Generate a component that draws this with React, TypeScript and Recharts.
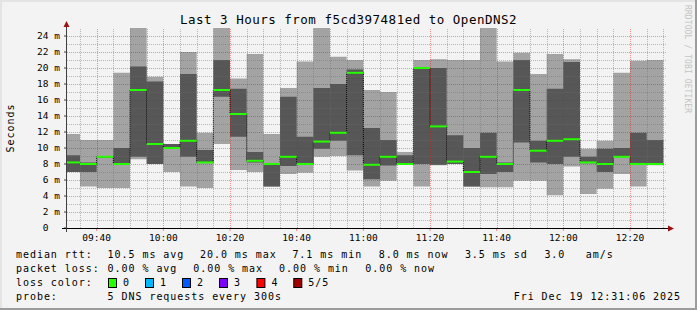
import { ComposedChart, Area, Line, XAxis, YAxis, ReferenceLine } from "recharts";

// 5-minute smoke bars, values in ms
const START = [
  "09:30", "09:35", "09:40", "09:45", "09:50", "09:55",
  "10:00", "10:05", "10:10", "10:15", "10:20", "10:25",
  "10:30", "10:35", "10:40", "10:45", "10:50", "10:55",
  "11:00", "11:05", "11:10", "11:15", "11:20", "11:25",
  "11:30", "11:35", "11:40", "11:45", "11:50", "11:55",
  "12:00", "12:05", "12:10", "12:15", "12:20", "12:25",
];
const P_MIN = [7.0, 5.2, 5.0, 5.0, 8.6, 8.0, 7.0, 5.2, 5.0, 10.5, 7.25, 7.0, 5.2, 6.75, 6.9, 8.9, 9.0, 7.2, 5.2, 5.9, 7.9, 5.2, 7.85, 8.0, 5.2, 5.1, 5.1, 5.9, 5.9, 4.1, 7.7, 4.25, 4.9, 6.75, 5.2, 7.85];
const P_LOW = [7.0, 7.0, 8.8, 8.0, 8.9, 8.0, 10.0, 8.9, 8.2, 16.4, 11.4, 8.2, 5.2, 7.75, 8.0, 9.9, 10.9, 9.1, 6.1, 7.8, 7.9, 8.0, 7.9, 8.0, 5.2, 6.75, 7.0, 10.7, 8.2, 8.0, 8.9, 8.1, 7.0, 8.9, 8.0, 7.9];
const P_MED = [8.2, 8.0, 8.9, 8.0, 17.25, 10.5, 10.0, 10.9, 8.2, 17.25, 14.25, 8.4, 8.0, 8.9, 8.0, 10.8, 11.9, 19.4, 7.9, 8.9, 8.0, 20.0, 12.7, 8.3, 7.0, 8.9, 8.0, 17.25, 9.66, 10.9, 11.1, 8.2, 8.0, 8.9, 8.0, 8.0];
const P_HIGH = [9.1, 8.2, 9.0, 10.0, 20.2, 18.3, 10.5, 19.25, 9.75, 21.0, 17.4, 9.5, 8.0, 16.4, 11.4, 17.5, 18.0, 19.8, 12.5, 11.0, 9.1, 20.0, 20.0, 11.6, 10.0, 11.9, 8.2, 21.0, 10.9, 17.4, 20.75, 8.9, 9.9, 10.0, 11.9, 11.0];
const P_MAX = [11.75, 11.0, 11.0, 19.4, 26, 18.9, 10.5, 22.0, 11.9, 26, 18.7, 21.75, 11.75, 17.5, 20.8, 26, 21.4, 21.0, 17.25, 17.0, 9.5, 21.0, 21.1, 21.0, 21.0, 26, 20.8, 21.9, 19.25, 21.75, 21.1, 9.9, 10.9, 19.4, 20.9, 21.0];
const END = "12:30";

const Y_TICKS = [0, 2, 4, 6, 8, 10, 12, 14, 16, 18, 20, 22, 24];
const Y_MINOR = [1, 3, 5, 7, 9, 11, 13, 15, 17, 19, 21, 23];
const X_MAJOR = ["09:40", "10:00", "10:20", "10:40", "11:00", "11:20", "11:40", "12:00", "12:20"];

const LOSS_LABELS = ["0", "1", "2", "3", "4", "5/5"];
const LOSS_COLORS = ["#26ff00", "#00b8ff", "#0059ff", "#7e00ff", "#ff0000", "#a10000"];

const toMin = (s: string) => {
  const [h, m] = s.split(":").map(Number);
  return h * 60 + m;
};
const T0 = toMin("09:31") + 6 / 60;
const T1 = T0 + 180;

const rows = START.map((s, i) => ({
  t: toMin(s),
  light: [P_MIN[i], P_MAX[i]],
  dark: [P_LOW[i], P_HIGH[i]],
  med: P_MED[i],
}));
const last = rows[rows.length - 1];
const data = [...rows, { ...last, t: toMin(END) }];

const MONO = "'DejaVu Sans Mono', monospace";
const majorX = X_MAJOR.map(toMin);
const minorX = [...START.slice(1), END].map(toMin).filter((t) => !majorX.includes(t));

const MINOR_C = "rgba(110,110,110,0.45)";
const MAJOR_C = "rgba(255,0,0,0.42)";

// crisp 1px dotted grid line: shift only across the line, keep dash phase on pixels
const gridShape = (p: any) => {
  const horiz = Math.abs(p.y1 - p.y2) < 0.01;
  const dx = horiz ? 0 : 0.5;
  const dy = horiz ? 0.5 : 0;
  return (
    <line x1={Math.round(p.x1) + dx} y1={Math.round(p.y1) + dy} x2={Math.round(p.x2) + dx} y2={Math.round(p.y2) + dy}
      stroke={p.stroke} strokeWidth={1} strokeDasharray="1 1" />
  );
};

const YTick = ({ x, y, payload }: any) => (
  <text x={x} y={y} dy={3.4} textAnchor="end" fontFamily={MONO} fontSize={9.5} fill="#000"
    style={{ whiteSpace: "pre" }}>
    {payload.value === 0 ? "0  " : `${payload.value} m`}
  </text>
);

const XTick = ({ x, y, payload }: any) => {
  const m = Math.round(payload.value);
  const label = `${String(Math.floor(m / 60)).padStart(2, "0")}:${String(m % 60).padStart(2, "0")}`;
  return (
    <text x={x} y={y} dy={6.6} textAnchor="middle" fontFamily={MONO} fontSize={9.5} fill="#000">
      {label}
    </text>
  );
};

const row1: [number, string][] = [
  [16, "median rtt:"], [107.6, "10.5 ms avg"], [200, "20.0 ms max"], [292.4, "7.1 ms min"],
  [378.7, "8.0 ms now"], [464.9, "3.5 ms sd"], [544.4, "3.0"], [585.8, "am/s"],
];
const row2: [number, string][] = [
  [16, "packet loss:"], [107.6, "0.00 % avg"], [193.3, "0.00 % max"], [279.1, "0.00 % min"], [365.3, "0.00 % now"],
];
const boxX = [108, 145, 182, 219, 256.4, 293.3];

export default function App() {
  const txt = { fontFamily: MONO, fontSize: 10, letterSpacing: 0.95, fill: "#000" };
  return (
    <div style={{ position: "absolute", left: 0, top: 0, width: 697, height: 310, background: "#f3f3f3", overflow: "hidden" }}>
      <ComposedChart width={697} height={310} data={data} margin={{ top: 28, right: 30, bottom: 62, left: 7 }}
        style={{ position: "absolute", left: 0, top: 0 }}>
        <XAxis type="number" dataKey="t" domain={[T0, T1]} allowDataOverflow height={20} interval={0}
          ticks={majorX} tick={<XTick />} axisLine={false}
          tickLine={{ stroke: "#ff8080" }} tickSize={3} tickMargin={3} />
        <YAxis type="number" domain={[0, 25]} allowDataOverflow width={60} ticks={Y_TICKS} interval={0}
          tick={<YTick />} axisLine={false} tickLine={{ stroke: "#404040" }} tickSize={3} tickMargin={4} />
        <Area dataKey="light" type="stepAfter" fill="#a3a3a3" fillOpacity={1} stroke="none" isAnimationActive={false} />
        <Area dataKey="dark" type="stepAfter" fill="#575757" fillOpacity={1} stroke="none" isAnimationActive={false} />
        <Line dataKey="med" type="stepAfter" stroke="#000" strokeWidth={1} strokeDasharray="1 1" dot={false}
          activeDot={false} isAnimationActive={false} />
        {Y_MINOR.map((v) => (
          <ReferenceLine key={"ym" + v} y={v} stroke={MINOR_C} shape={gridShape} />
        ))}
        {Y_TICKS.filter((v) => v > 0).map((v) => (
          <ReferenceLine key={"yM" + v} y={v} stroke={MAJOR_C} shape={gridShape} />
        ))}
        {minorX.map((t) => (
          <ReferenceLine key={"xm" + t} x={t} stroke={MINOR_C} shape={gridShape} />
        ))}
        {majorX.map((t) => (
          <ReferenceLine key={"xM" + t} x={t} stroke={MAJOR_C} shape={gridShape} />
        ))}
        {rows.map((r) => (
          <ReferenceLine key={"md" + r.t} segment={[{ x: Math.max(r.t, T0), y: r.med }, { x: r.t + 5, y: r.med }]}
            stroke="#26ff00" strokeWidth={2} />
        ))}
      </ComposedChart>
      <svg width={697} height={310} style={{ position: "absolute", left: 0, top: 0, pointerEvents: "none" }}>
        <rect x={0} y={0} width={697} height={2} fill="#e4e4e4" />
        <rect x={0} y={0} width={2} height={310} fill="#e4e4e4" />
        <rect x={695} y={0} width={2} height={310} fill="#9c9c9c" />
        <rect x={0} y={308} width={697} height={2} fill="#9c9c9c" />
        <text x={348.5} y={24} textAnchor="middle" fontFamily={MONO} fontSize={12.5} letterSpacing={0.5} fill="#000">
          Last 3 Hours from f5cd397481ed to OpenDNS2
        </text>
        <text transform="translate(14,128) rotate(-90)" textAnchor="middle" fontFamily={MONO} fontSize={10}
          letterSpacing={1} fill="#000">Seconds</text>
        <text transform="translate(685,5) rotate(90)" fontFamily={MONO} fontSize={8} letterSpacing={0.1} fill="#c4c4c4">
          RRDTOOL / TOBI OETIKER
        </text>
        <line x1={62} y1={228.5} x2={669} y2={228.5} stroke="#000" strokeWidth={1} />
        <polygon points="668,225.5 674,228.5 668,231.5" fill="#a01010" />
        <line x1={66.5} y1={232} x2={66.5} y2={25} stroke="#404040" strokeWidth={1} />
        <polygon points="63.5,27 66.5,21 69.5,27" fill="#a01010" />
        {row1.map(([x, s]) => (
          <text key={s} x={x} y={258} {...txt} style={{ whiteSpace: "pre" }}>{s}</text>
        ))}
        {row2.map(([x, s]) => (
          <text key={s} x={x} y={272} {...txt} style={{ whiteSpace: "pre" }}>{s}</text>
        ))}
        <text x={16} y={286} {...txt}>loss color:</text>
        {LOSS_LABELS.map((l, i) => (
          <g key={l}>
            <rect x={boxX[i] + 0.5} y={278.5} width={8} height={9} fill={LOSS_COLORS[i]} stroke="#000" strokeWidth={1} />
            <text x={boxX[i] + 15} y={286} {...txt}>{l}</text>
          </g>
        ))}
        <text x={16} y={300} {...txt}>probe:</text>
        <text x={107.6} y={300} {...txt}>5 DNS requests every 300s</text>
        <text x={681} y={300} textAnchor="end" {...txt}>Fri Dec 19 12:31:06 2025</text>
      </svg>
    </div>
  );
}
